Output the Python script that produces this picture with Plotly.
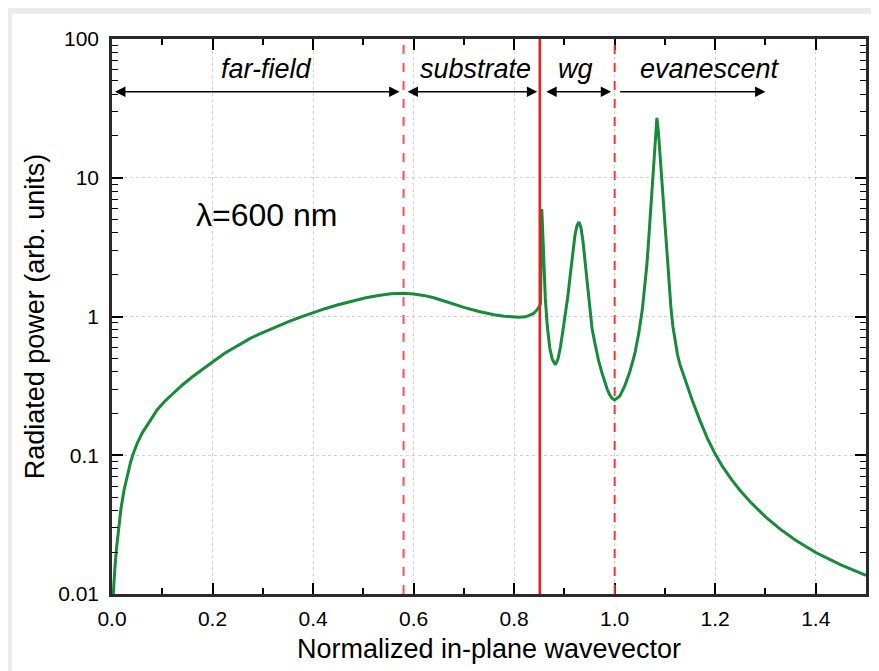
import plotly.graph_objects as go

# Data
wavevector = [0.0025, 0.004, 0.006, 0.009, 0.013, 0.018, 0.024, 0.032, 0.037, 0.042, 0.05, 0.06,
              0.075, 0.09, 0.105, 0.122, 0.14, 0.16, 0.18, 0.2, 0.225, 0.25, 0.275, 0.294, 0.32,
              0.35, 0.375, 0.4, 0.425, 0.45, 0.475, 0.505, 0.53, 0.555, 0.58, 0.60, 0.62, 0.64,
              0.664, 0.68, 0.70, 0.73, 0.76, 0.78, 0.796, 0.81, 0.823, 0.832, 0.838, 0.843, 0.847,
              0.851, 0.8525, 0.855, 0.857, 0.859, 0.862, 0.866, 0.871, 0.876, 0.882, 0.887, 0.892,
              0.897, 0.902, 0.907, 0.912, 0.917, 0.921, 0.925, 0.929, 0.933, 0.937, 0.941, 0.946,
              0.951, 0.955, 0.960, 0.968, 0.975, 0.980, 0.985, 0.990, 0.995, 1.0, 1.01, 1.02, 1.03,
              1.04, 1.048, 1.055, 1.06, 1.064, 1.067, 1.071, 1.075, 1.078, 1.081, 1.084, 1.087,
              1.090, 1.093, 1.096, 1.100, 1.104, 1.108, 1.112, 1.116, 1.12, 1.125, 1.13, 1.14,
              1.155, 1.17, 1.185, 1.2, 1.215, 1.233, 1.25, 1.27, 1.3, 1.33, 1.36, 1.4, 1.45, 1.5]
power = [0.0100, 0.0126, 0.0158, 0.0214, 0.0302, 0.0417, 0.0562, 0.0759, 0.0891, 0.102, 0.1216,
         0.1445, 0.1774, 0.213, 0.245, 0.281, 0.321, 0.368, 0.4175, 0.4695, 0.545, 0.619, 0.695,
         0.750, 0.826, 0.916, 0.991, 1.067, 1.143, 1.216, 1.288, 1.365, 1.416, 1.459, 1.472,
         1.455, 1.419, 1.365, 1.282, 1.227, 1.164, 1.086, 1.028, 1.005, 0.993, 0.989, 0.995,
         1.019, 1.047, 1.089, 1.130,
         1.189, 1.25, 5.95, 4.0, 2.4, 1.35, 0.85, 0.59, 0.49, 0.45, 0.49, 0.60,
         0.79, 1.05, 1.41, 2.04, 3.02, 3.85, 4.52, 4.8, 4.37, 3.47, 2.51, 1.62,
         1.05, 0.82, 0.66, 0.48, 0.39, 0.34, 0.30, 0.273, 0.257, 0.25, 0.266, 0.316, 0.398,
         0.537, 0.759, 1.122, 1.62, 2.34, 3.31, 5.5, 10.0, 14.8, 20.9, 27.0, 21.4,
         15.1, 10.5, 7.1, 4.27, 2.63, 1.70, 1.15, 0.84, 0.66, 0.53, 0.45, 0.35,
         0.245, 0.177, 0.131, 0.102, 0.0824, 0.0664, 0.0555, 0.046, 0.036, 0.0292, 0.0244,
         0.0199, 0.0162, 0.0136]

region_labels = ["far-field", "substrate", "wg", "evanescent"]
region_label_x = [0.3075, 0.724, 0.923, 1.19]
region_bounds = [0.58, 0.851, 1.0]
x_ticks = [0.0, 0.2, 0.4, 0.6, 0.8, 1.0, 1.2, 1.4]
x_tick_text = ["0.0", "0.2", "0.4", "0.6", "0.8", "1.0", "1.2", "1.4"]
x_minor_ticks = [0.1, 0.3, 0.5, 0.7, 0.9, 1.1, 1.3]

FONT = "Liberation Sans, Arial, Helvetica, sans-serif"

fig = go.Figure()
fig.add_trace(go.Scatter(x=wavevector, y=power, mode="lines",
                         line=dict(color="#188a3c", width=3),
                         showlegend=False, hoverinfo="skip"))

# page body adds an 8px offset, so the figure is drawn 8px smaller
W, H = 871, 663
L, R, T, B = 104, 13, 31, 77
pw, ph = W - L - R, H - T - B

shapes = []
# white page on a light gray window frame
shapes.append(dict(type="rect", xref="paper", yref="paper",
                   x0=(4 - L) / pw, x1=(W + 5 - L) / pw,
                   y0=-(B + 5) / ph, y1=(H - 6 - B) / ph,
                   fillcolor="white", line=dict(width=0), layer="below"))
# vertical region lines
shapes.append(dict(type="line", xref="x", yref="paper", x0=region_bounds[0], x1=region_bounds[0],
                   y0=0, y1=1, line=dict(color="#ff5050", width=2, dash="dash")))
shapes.append(dict(type="line", xref="x", yref="paper", x0=region_bounds[1], x1=region_bounds[1],
                   y0=0, y1=1, line=dict(color="#ee1c1c", width=2.5)))
shapes.append(dict(type="line", xref="x", yref="paper", x0=region_bounds[2], x1=region_bounds[2],
                   y0=0, y1=1, line=dict(color="#ff3030", width=2, dash="dash")))

annotations = []
arrow_y = 1.62
text_y = 1.787
arrow_spans = [(0.003, 0.572, "end+start"), (0.585, 0.846, "end+start"),
               (0.861, 0.993, "end+start"), (1.008, 1.30, "end")]
for x0, x1, side in arrow_spans:
    annotations.append(dict(x=x1, y=arrow_y, ax=x0, ay=arrow_y, xref="x", yref="y",
                            axref="x", ayref="y", showarrow=True, arrowhead=2,
                            arrowsize=1.3, arrowwidth=1.6, arrowcolor="black",
                            arrowside=side, text=""))
for lab, lx in zip(region_labels, region_label_x):
    annotations.append(dict(x=lx, y=text_y, xref="x", yref="y", text="<i>" + lab + "</i>",
                            showarrow=False, font=dict(family=FONT, size=27, color="black")))
annotations.append(dict(x=0.307, y=0.732, xref="x", yref="y", text="λ=600 nm",
                        showarrow=False, font=dict(family=FONT, size=32, color="black")))

fig.update_layout(
    width=W, height=H,
    margin=dict(l=L, r=R, t=T, b=B, pad=0),
    paper_bgcolor="#ebebeb", plot_bgcolor="white",
    shapes=shapes, annotations=annotations,
    font=dict(family=FONT, size=21, color="black"),
)
fig.update_xaxes(range=[0, 1.5], tickvals=x_ticks, ticktext=x_tick_text,
                 ticks="inside", ticklen=11, tickwidth=1.5, tickcolor="black",
                 showline=True, linecolor="#2a2a2a", linewidth=2.5, mirror="ticks",
                 showgrid=True, gridcolor="#d0d0d0", griddash="dot", gridwidth=1,
                 zeroline=False, automargin=False, ticklabelstandoff=4,
                 minor=dict(tickvals=x_minor_ticks, ticks="inside",
                            ticklen=6, tickwidth=1.5, tickcolor="black", showgrid=False),
                 title=dict(text="Normalized in-plane wavevector", font=dict(size=27), standoff=11),
                 tickfont=dict(size=21))
fig.update_yaxes(type="log", range=[-2, 2], dtick=1,
                 ticks="inside", ticklen=11, tickwidth=1.5, tickcolor="black",
                 showline=True, linecolor="#2a2a2a", linewidth=2.5, mirror="ticks",
                 showgrid=True, gridcolor="#d0d0d0", griddash="dot", gridwidth=1,
                 zeroline=False, automargin=False, ticklabelstandoff=6,
                 minor=dict(dtick="D1", ticks="inside", ticklen=6, tickwidth=1.2,
                            tickcolor="black", showgrid=False),
                 title=dict(text="Radiated power (arb. units)", font=dict(size=27), standoff=6),
                 tickfont=dict(size=21))

fig.write_html("out.html")
